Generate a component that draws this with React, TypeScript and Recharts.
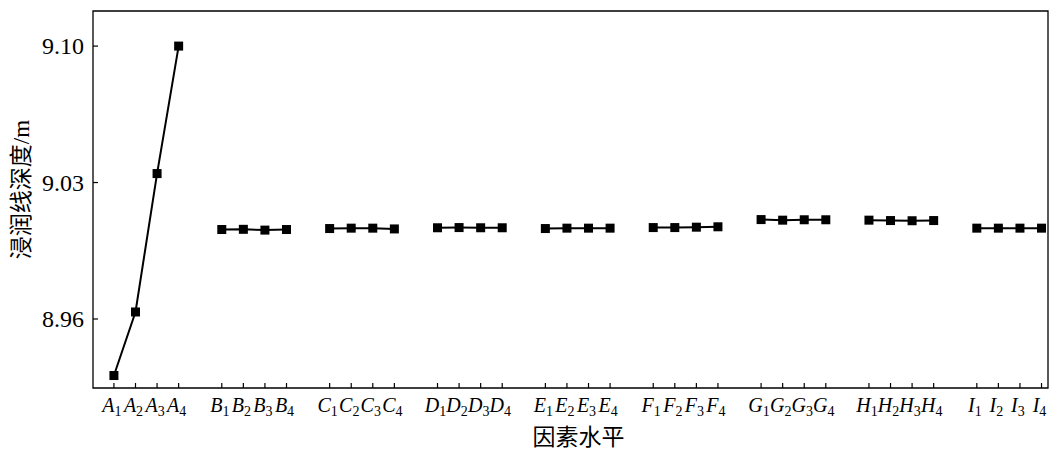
import React from "react";
import { LineChart, Line, XAxis, YAxis, ReferenceArea } from "recharts";

// factor letters, one group of four levels each
const factors = ["A", "B", "C", "D", "E", "F", "G", "H", "I"];

// mean seepage-line depth (m) per level
const aDepth = [8.931, 8.9636, 9.0346, 9.1];
const bDepth = [9.0059, 9.006, 9.0056, 9.0059];
const cDepth = [9.0064, 9.0066, 9.0066, 9.0062];
const dDepth = [9.0068, 9.0069, 9.0068, 9.0068];
const eDepth = [9.0064, 9.0066, 9.0066, 9.0066];
const fDepth = [9.0069, 9.0069, 9.0071, 9.0073];
const gDepth = [9.011, 9.0107, 9.0109, 9.0109];
const hDepth = [9.0107, 9.0105, 9.0104, 9.0105];
const iDepth = [9.0066, 9.0066, 9.0066, 9.0066];

const yTicks = [8.96, 9.03, 9.1];

const allDepths = [aDepth, bDepth, cDepth, dDepth, eDepth, fDepth, gDepth, hDepth, iDepth];

// each group takes 4 slots plus one empty slot as gap
const SLOT = 5;
const X_DOMAIN: [number, number] = [-0.97, 43.3];
const Y_DOMAIN: [number, number] = [8.9246, 9.118];
const series = allDepths.map((vals, gi) =>
  vals.map((v, i) => ({ slot: gi * SLOT + i, depth: v })),
);
const xTicks = series.flat().map((p) => p.slot);

const SERIF = "'Liberation Serif', 'Times New Roman', serif";
const CJK = "'Liberation Serif', 'Noto Sans CJK SC', serif";

function XTick(props: any) {
  const { x, y, payload } = props;
  const slot = payload.value as number;
  const letter = factors[Math.floor(slot / SLOT)];
  const level = (slot % SLOT) + 1;
  return (
    <g>
      <line x1={x} y1={y} x2={x} y2={y - 5} stroke="#000" strokeWidth={1.2} />
      <text x={x - 2} y={y + 24} textAnchor="middle" fontFamily={SERIF} fontSize={20} fill="#000">
        <tspan fontStyle="italic">{letter}</tspan>
        <tspan fontSize={14} dy={4}>{level}</tspan>
      </text>
    </g>
  );
}

function YTick(props: any) {
  const { x, y, payload } = props;
  return (
    <g>
      <line x1={x} y1={y} x2={x + 5} y2={y} stroke="#000" strokeWidth={1.2} />
      <text x={x - 9} y={y + 8} textAnchor="end" fontFamily={SERIF} fontSize={24} fill="#000">
        {Number(payload.value).toFixed(2)}
      </text>
    </g>
  );
}

function SquareDot(props: any) {
  const { cx, cy } = props;
  if (cx == null || cy == null) return null;
  return <rect x={cx - 4.5} y={cy - 4.5} width={9} height={9} fill="#000" />;
}

export default function App() {
  return (
    <div style={{ position: "absolute", left: 0, top: 0, background: "#fff" }}>
      <LineChart width={1059} height={450} margin={{ top: 11, right: 11, left: 0, bottom: 0 }}>
        <XAxis
          dataKey="slot"
          type="number"
          domain={X_DOMAIN}
          ticks={xTicks}
          interval={0}
          allowDataOverflow
          tick={<XTick />}
          tickLine={false}
          tickSize={0}
          tickMargin={0}
          height={62}
          axisLine={false}
          label={(p: any) => {
            const vb = p.viewBox;
            return (
              <text
                x={vb.x + vb.width / 2 + 8}
                y={vb.y + 57}
                textAnchor="middle"
                fontFamily={CJK}
                fontSize={23}
                fill="#000"
              >
                因素水平
              </text>
            );
          }}
        />
        <YAxis
          type="number"
          domain={Y_DOMAIN}
          ticks={yTicks}
          allowDataOverflow
          tick={<YTick />}
          tickLine={false}
          tickSize={0}
          tickMargin={0}
          width={93}
          axisLine={false}
          label={(p: any) => {
            const vb = p.viewBox;
            const cx = 21;
            const cy = vb.y + vb.height / 2 - 10;
            return (
              <text
                x={cx}
                y={cy}
                transform={`rotate(-90, ${cx}, ${cy})`}
                textAnchor="middle"
                dominantBaseline="central"
                fontFamily={CJK}
                fontSize={23}
                fill="#000"
              >
                浸润线深度/m
              </text>
            );
          }}
        />
        {/* plot frame */}
        <ReferenceArea
          x1={X_DOMAIN[0]}
          x2={X_DOMAIN[1]}
          y1={Y_DOMAIN[0]}
          y2={Y_DOMAIN[1]}
          ifOverflow="visible"
          fill="none"
          fillOpacity={0}
          stroke="#000"
          strokeWidth={1.3}
          strokeOpacity={1}
        />
        {series.map((pts, gi) => (
          <Line
            key={factors[gi]}
            data={pts}
            dataKey="depth"
            type="linear"
            stroke="#000"
            strokeWidth={2}
            dot={<SquareDot />}
            activeDot={false}
            isAnimationActive={false}
          />
        ))}
      </LineChart>
    </div>
  );
}
